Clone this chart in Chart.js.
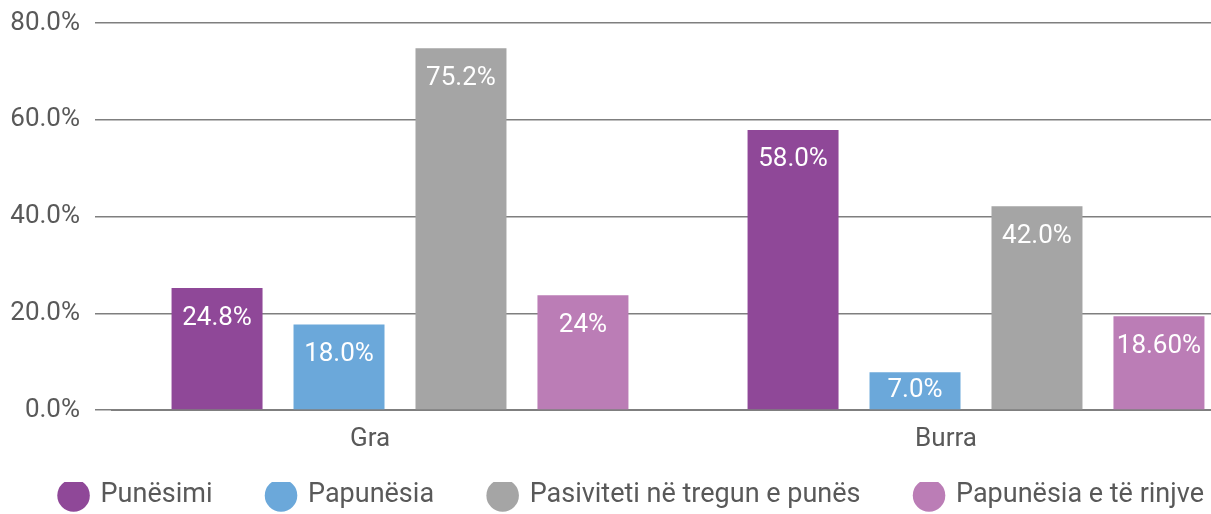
<!DOCTYPE html>
<html>
<head>
<meta charset="utf-8">
<script src="https://cdn.jsdelivr.net/npm/chart.js@4/dist/chart.umd.min.js"></script>
<style>
  html, body { margin: 0; padding: 0; background: #fff; overflow: hidden; }
  #wrap { width: 1264px; height: 514px; position: relative; }
</style>
</head>
<body>
<div id="wrap"><canvas id="chart"></canvas></div>
<script>
// Categories and series
const categories = ['Gra', 'Burra'];
const seriesNames = ['Punësimi', 'Papunësia', 'Pasiviteti në tregun e punës', 'Papunësia e të rinjve'];

// Bar heights (%)
const punesimi = [25.2, 57.9];
const papunesia = [17.7, 7.8];
const pasiviteti = [74.8, 42.1];
const papunesiaRinj = [23.7, 19.4];

// Labels as printed on the bars
const punesimiText = ['24.8%', '58.0%'];
const papunesiaText = ['18.0%', '7.0%'];
const pasivitetiText = ['75.2%', '42.0%'];
const papunesiaRinjText = ['24%', '18.60%'];

// Y axis ticks
const yTicks = [0, 20, 40, 60, 80];

const colors = ['#8F4898', '#6BA8DA', '#A5A5A5', '#BB7DB6'];
const fontFamily = 'Roboto, sans-serif';

const seriesValues = [punesimi, papunesia, pasiviteti, papunesiaRinj];
const seriesTexts = [punesimiText, papunesiaText, pasivitetiText, papunesiaRinjText];

// Draw value labels inside the top of each bar
const barLabels = {
  id: 'barLabels',
  afterDatasetsDraw(chart) {
    const ctx = chart.ctx;
    ctx.save();
    ctx.fillStyle = '#ffffff';
    ctx.font = '26px ' + fontFamily;
    ctx.textAlign = 'center';
    ctx.textBaseline = 'middle';
    chart.data.datasets.forEach((ds, i) => {
      const meta = chart.getDatasetMeta(i);
      meta.data.forEach((bar, j) => {
        const y = Math.min(bar.y + 30, bar.base - 19);
        ctx.fillText(seriesTexts[i][j], bar.x, y);
      });
    });
    ctx.restore();
  }
};

const ctx = document.getElementById('chart').getContext('2d');
new Chart(ctx, {
  type: 'bar',
  data: {
    labels: categories,
    datasets: seriesNames.map((name, i) => ({
      label: name,
      data: seriesValues[i],
      backgroundColor: colors[i],
      borderWidth: 0,
      categoryPercentage: 0.847,
      barPercentage: 0.746
    }))
  },
  options: {
    responsive: true,
    maintainAspectRatio: false,
    animation: false,
    layout: {
      padding: { top: 23, right: 0, bottom: -5, left: 0 }
    },
    scales: {
      x: {
        grid: { display: false, drawTicks: false },
        border: { display: true, color: '#7f7f7f', width: 2 },
        afterFit(scale) {
          scale.height = 72;
        },
        ticks: {
          color: '#595959',
          font: { family: fontFamily, size: 26 },
          padding: 14,
          labelOffset: -30
        }
      },
      y: {
        min: 0,
        max: 80,
        afterBuildTicks(scale) {
          scale.ticks = yTicks.map(v => ({ value: v }));
        },
        afterFit(scale) {
          scale.width = 112;
          scale.paddingTop = 0;
          scale.paddingBottom = 0;
        },
        grid: {
          color: '#7f7f7f',
          lineWidth: 1.5,
          drawTicks: true,
          tickLength: 17
        },
        border: { display: false },
        ticks: {
          color: '#595959',
          font: { family: fontFamily, size: 26 },
          padding: 15,
          callback: v => v.toFixed(1) + '%'
        }
      }
    },
    plugins: {
      legend: {
        position: 'bottom',
        labels: {
          usePointStyle: true,
          pointStyle: 'circle',
          boxHeight: 23,
          color: '#595959',
          font: { family: fontFamily, size: 27 },
          padding: 0,
          generateLabels(chart) {
            const items = Chart.defaults.plugins.legend.labels.generateLabels(chart);
            // widen the gap between entries without adding vertical padding
            items.forEach((it, i) => {
              if (i < items.length - 1) it.text = it.text + '\u2003\u2003';
            });
            return items;
          }
        }
      },
      tooltip: { enabled: false }
    }
  },
  plugins: [barLabels]
});
</script>
</body>
</html>
